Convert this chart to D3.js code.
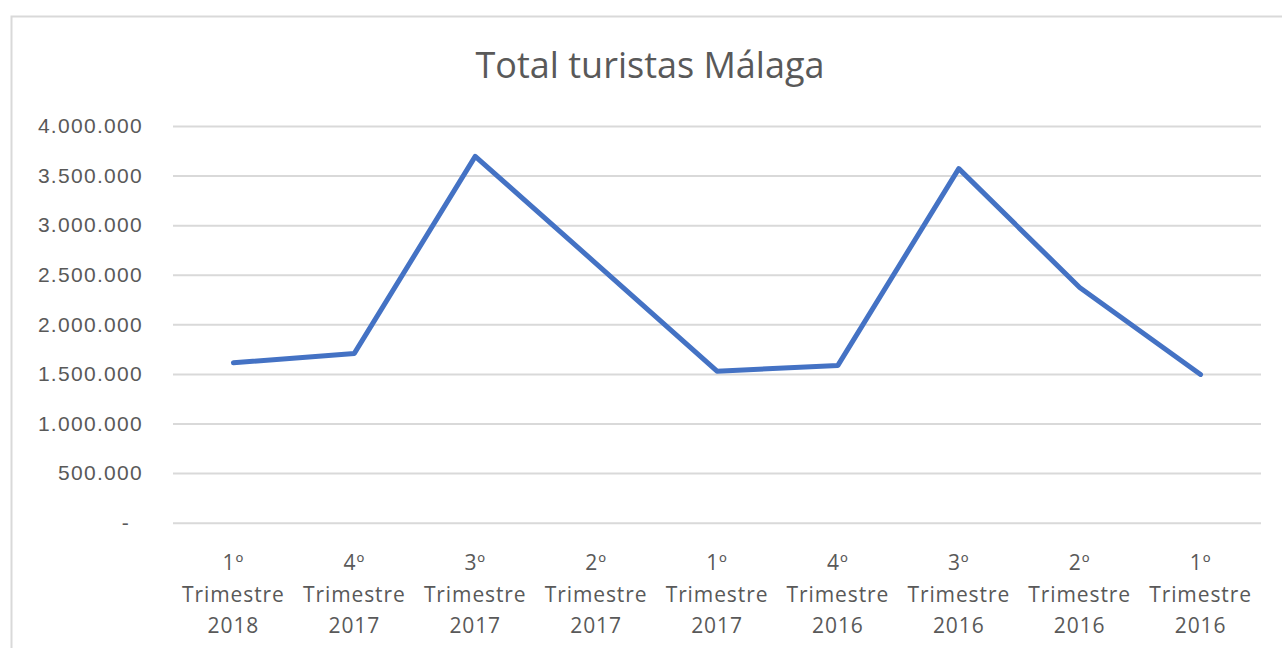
<!DOCTYPE html>
<html>
<head>
<meta charset="utf-8">
<script src="https://cdn.jsdelivr.net/npm/d3@7"></script>
<style>
  body { margin: 0; background: #fff; }
  svg { display: block; font-family: "Open Sans", "Liberation Sans", sans-serif; }
</style>
</head>
<body>
<script>
// quarters, most recent first (as in the source sheet)
const quarters = ["1º", "4º", "3º", "2º", "1º", "4º", "3º", "2º", "1º"];
const years = ["2018", "2017", "2017", "2017", "2017", "2016", "2016", "2016", "2016"];
const tourists = [1613000, 1707000, 3694000, 2613000, 1528000, 1586000, 3570000, 2372000, 1495000];
const yTicks = [0, 500000, 1000000, 1500000, 2000000, 2500000, 3000000, 3500000, 4000000];

const width = 1282, height = 648;
const margin = { top: 126, right: 21, bottom: 125, left: 173 };

const es = d3.formatLocale({ decimal: ",", thousands: ".", grouping: [3], currency: ["", "€"] });
const fmt = v => v === 0 ? "-" : es.format(",")(v);

const svg = d3.select("body").append("svg")
  .attr("width", width)
  .attr("height", height);

// chart area border
svg.append("rect")
  .attr("x", 11.5).attr("y", 16.5)
  .attr("width", width).attr("height", height)
  .attr("fill", "none")
  .attr("stroke", "#d9d9d9")
  .attr("stroke-width", 2);

svg.append("text")
  .attr("x", 650).attr("y", 78)
  .attr("text-anchor", "middle")
  .attr("fill", "#595959")
  .style("font-size", "36px")
  .text("Total turistas Málaga");

const keys = d3.range(tourists.length);
const x = d3.scaleBand()
  .domain(keys)
  .range([margin.left, width - margin.right]);

const y = d3.scaleLinear()
  .domain([0, 4000000])
  .range([height - margin.bottom - 0.3, margin.top]);

// gridlines + y labels
const yAxis = svg.append("g")
  .attr("transform", `translate(${margin.left},0)`)
  .call(d3.axisLeft(y).tickValues(yTicks).tickFormat(fmt)
    .tickSize(-(width - margin.left - margin.right)).tickPadding(30));
yAxis.select(".domain").remove();
yAxis.selectAll(".tick line").attr("stroke", "#d9d9d9").attr("stroke-width", 2);
yAxis.selectAll(".tick text")
  .attr("fill", "#595959")
  .style("font-size", "21px")
  .style("letter-spacing", "1.3px")
  .attr("dx", d => d === 0 ? -13 : 0);

// x labels, three lines each
const xl = svg.append("g").selectAll("text")
  .data(keys)
  .join("text")
  .attr("text-anchor", "middle")
  .attr("fill", "#595959")
  .style("font-size", "21px")
  .style("letter-spacing", "0.9px");
xl.each(function (d) {
  const t = d3.select(this);
  const cx = x(d) + x.bandwidth() / 2;
  [quarters[d], "Trimestre", years[d]].forEach((s, i) => {
    t.append("tspan").attr("x", cx).attr("y", 570 + i * 31.5).text(s);
  });
});

const line = d3.line()
  .x((d, i) => x(i) + x.bandwidth() / 2)
  .y(d => y(d));

svg.append("path")
  .datum(tourists)
  .attr("d", line)
  .attr("fill", "none")
  .attr("stroke", "#4472c4")
  .attr("stroke-width", 5)
  .attr("stroke-linejoin", "round")
  .attr("stroke-linecap", "round");
</script>
</body>
</html>
